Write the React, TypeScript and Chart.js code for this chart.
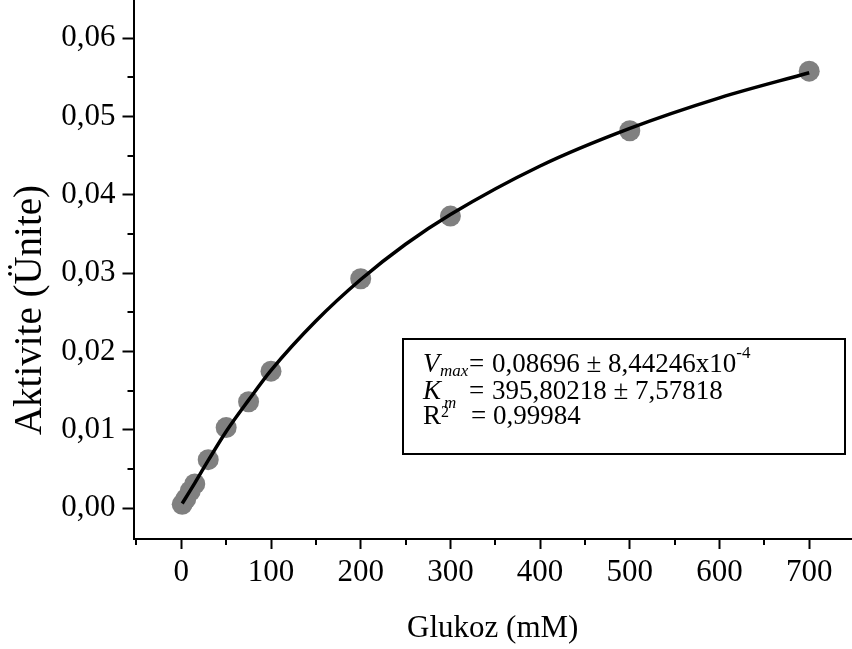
import { useEffect, useRef } from "react";
import { Chart, registerables } from "chart.js";

Chart.register(...registerables);

// Measured enzyme activity for each glucose concentration
const glucose = [1, 5, 10, 15, 30, 50, 75, 100, 200, 300, 500, 700];
const activity = [0.0005, 0.0012, 0.0022, 0.0031, 0.0062, 0.0103, 0.0136, 0.0175, 0.0293, 0.0373, 0.0482, 0.0558];

// Michaelis–Menten fit curve, sampled along the concentration axis
const fitGlucose = [1, 15, 30, 50, 75, 100, 150, 200, 250, 300, 400, 500, 600, 700];
const fitActivity = [0.0006, 0.0032, 0.0061, 0.0098, 0.0138, 0.0176, 0.0239, 0.0292, 0.0337, 0.0375, 0.0437, 0.0485, 0.0524, 0.0556];

// Axis ticks
const xTickValues = [0, 100, 200, 300, 400, 500, 600, 700];
const xTickLabels = ["0", "100", "200", "300", "400", "500", "600", "700"];
const xMinorTicks = [-50, 50, 150, 250, 350, 450, 550, 650];
const yTickValues = [0, 0.01, 0.02, 0.03, 0.04, 0.05, 0.06];
const yTickLabels = ["0,00", "0,01", "0,02", "0,03", "0,04", "0,05", "0,06"];
const yMinorTicks = [0.005, 0.015, 0.025, 0.035, 0.045, 0.055];

// Axis titles
const xTitle = "Glukoz (mM)";
const yTitle = "Aktivite (Ünite)";

// Fit parameters shown in the box
const vmaxValue = "0,08696 ± 8,44246x10";
const vmaxExponent = "-4";
const kmValue = "395,80218 ± 7,57818";
const r2Value = "0,99984";

const SERIF = "'Liberation Serif', 'Times New Roman', serif";

const extrasPlugin = {
  id: "kineticsExtras",
  afterDraw(chart: any) {
    const { ctx, chartArea, scales } = chart;
    const xs = scales.x;
    const ys = scales.y;
    ctx.save();

    // minor ticks
    ctx.strokeStyle = "#000";
    ctx.lineWidth = 2;
    ctx.beginPath();
    for (const v of xMinorTicks) {
      const px = Math.round(xs.getPixelForValue(v));
      ctx.moveTo(px, chartArea.bottom);
      ctx.lineTo(px, chartArea.bottom + 6);
    }
    for (const v of yMinorTicks) {
      const py = Math.round(ys.getPixelForValue(v));
      ctx.moveTo(chartArea.left - 6, py);
      ctx.lineTo(chartArea.left, py);
    }
    ctx.stroke();

    // y-axis title
    ctx.fillStyle = "#000";
    ctx.save();
    ctx.translate(31, chartArea.top + 310);
    ctx.rotate(-Math.PI / 2);
    ctx.font = `39px ${SERIF}`;
    ctx.textAlign = "center";
    ctx.textBaseline = "middle";
    ctx.fillText(yTitle, 0, 0);
    ctx.restore();

    // fit parameter box
    const bx = chartArea.left + 269.5;
    const by = chartArea.top + 339;
    ctx.lineWidth = 2;
    ctx.strokeRect(bx, by, 442, 115);

    ctx.textAlign = "left";
    ctx.textBaseline = "alphabetic";
    const put = (text: string, x: number, y: number, size: number, italic = false) => {
      ctx.font = `${italic ? "italic " : ""}${size}px ${SERIF}`;
      ctx.fillText(text, x, y);
      return x + ctx.measureText(text).width;
    };

    const b1 = by + 33;
    const b2 = by + 59.5;
    const b3 = by + 85;

    let x = put("V", bx + 20, b1, 27, true);
    put("max", x + 0.5, b1 + 4, 17, true);
    put("=", bx + 66, b1, 27);
    x = put(vmaxValue, bx + 89, b1, 27);
    put(vmaxExponent, x, b1 - 14, 17);

    x = put("K", bx + 20, b2, 27, true);
    put("m", x + 3, b2 + 9, 17, true);
    put("=", bx + 66, b2, 27);
    put(kmValue, bx + 89, b2, 27);

    x = put("R", bx + 20, b3, 27);
    put("2", x, b3 - 7, 16);
    put("=", bx + 68, b3, 27);
    put(r2Value, bx + 90, b3, 27);

    ctx.restore();
  },
};

export default function App() {
  const canvasRef = useRef<HTMLCanvasElement | null>(null);

  useEffect(() => {
    const canvas = canvasRef.current;
    if (!canvas) return;

    const points = glucose.map((g, i) => ({ x: g, y: activity[i] }));
    const curve = fitGlucose.map((g, i) => ({ x: g, y: fitActivity[i] }));

    const chart = new Chart(canvas, {
      type: "scatter",
      data: {
        datasets: [
          {
            type: "line",
            data: curve,
            borderColor: "#000",
            borderWidth: 3.5,
            pointRadius: 0,
            cubicInterpolationMode: "monotone",
            fill: false,
            order: 0,
          } as any,
          {
            type: "scatter",
            data: points,
            backgroundColor: "rgb(128,128,128)",
            borderWidth: 0,
            pointRadius: 10.5,
            pointHoverRadius: 10.5,
            order: 1,
          },
        ],
      },
      options: {
        responsive: false,
        animation: false,
        layout: { padding: 0, autoPadding: false },
        plugins: {
          legend: { display: false },
          tooltip: { enabled: false },
        },
        scales: {
          x: {
            type: "linear",
            min: -53.3,
            max: 747.7,
            afterBuildTicks: (scale: any) => {
              scale.ticks = xTickValues.map((v) => ({ value: v }));
            },
            afterFit: (scale: any) => {
              scale.height = 110;
              scale.paddingLeft = 0;
              scale.paddingRight = 0;
            },
            ticks: {
              autoSkip: false,
              maxRotation: 0,
              padding: 5,
              color: "#000",
              font: { family: SERIF, size: 31 },
              callback: (_v: any, i: number) => xTickLabels[i],
            },
            grid: {
              display: true,
              drawOnChartArea: false,
              drawTicks: true,
              tickLength: 10,
              tickWidth: 2,
              tickColor: "#000",
            },
            border: { display: true, color: "#000", width: 2 },
            title: {
              display: true,
              text: xTitle,
              color: "#000",
              font: { family: SERIF, size: 31 },
              padding: { top: 0, bottom: 2 },
            },
          },
          y: {
            type: "linear",
            min: -0.00393,
            max: 0.06489,
            afterBuildTicks: (scale: any) => {
              scale.ticks = yTickValues.map((v) => ({ value: v }));
            },
            afterFit: (scale: any) => {
              scale.width = 133.5;
              scale.paddingTop = 0;
              scale.paddingBottom = 0;
            },
            ticks: {
              autoSkip: false,
              padding: 7,
              color: "#000",
              font: { family: SERIF, size: 31 },
              callback: (_v: any, i: number) => yTickLabels[i],
            },
            grid: {
              display: true,
              drawOnChartArea: false,
              drawTicks: true,
              tickLength: 11,
              tickWidth: 2,
              tickColor: "#000",
            },
            border: { display: true, color: "#000", width: 2 },
          },
        },
      },
      plugins: [extrasPlugin],
    });

    return () => chart.destroy();
  }, []);

  return (
    <div style={{ position: "fixed", left: 0, top: 0, width: 852, height: 649, background: "#fff" }}>
      <canvas ref={canvasRef} width={852} height={649} style={{ display: "block" }} />
    </div>
  );
}
